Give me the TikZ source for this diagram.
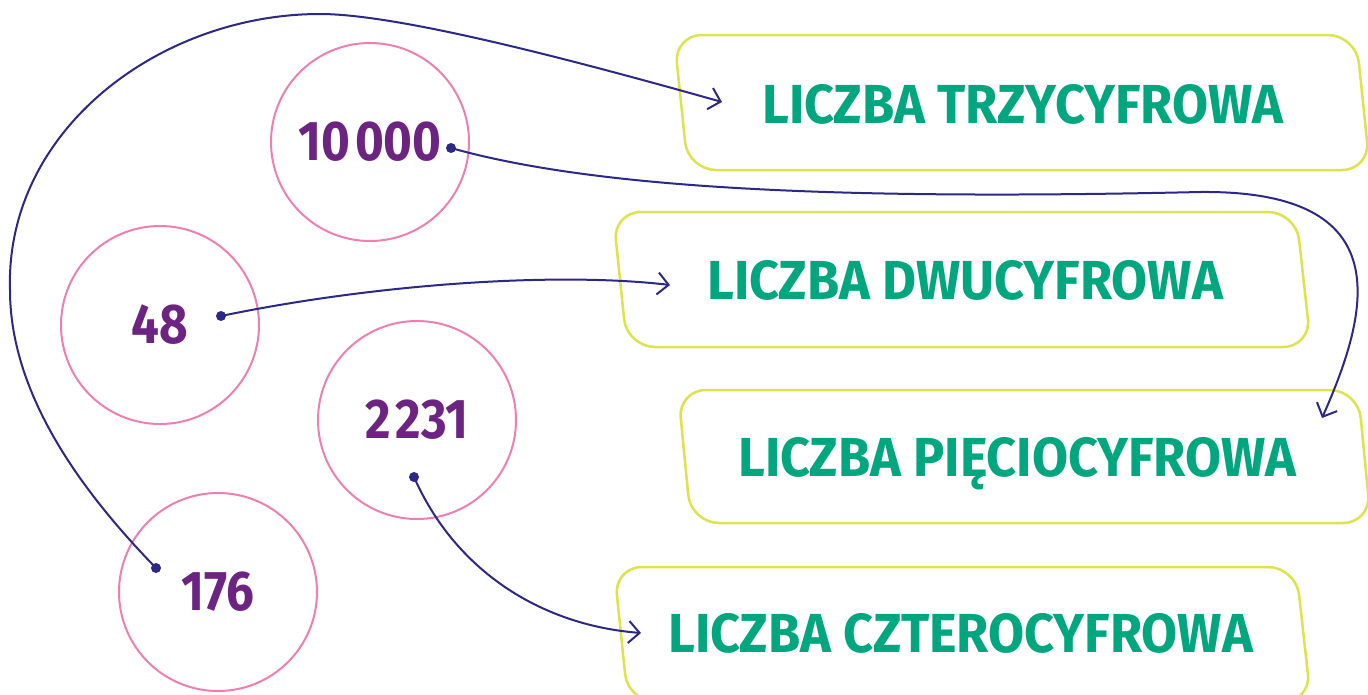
\documentclass[tikz,border=0pt]{standalone}
\usepackage{fontspec}
\usetikzlibrary{arrows.meta}
\newfontfamily\labelfont{Fira Sans}[FakeStretch=0.95]
\newfontfamily\numfont{Fira Sans}[FakeStretch=0.88,Numbers=Proportional]
\definecolor{boxline}{HTML}{DCE34C}
\definecolor{ringline}{HTML}{EE7FB0}
\definecolor{labelgreen}{HTML}{00A77E}
\definecolor{numpurple}{HTML}{6C2382}
\definecolor{linkline}{HTML}{2D2785}
\newcommand\digitgap{\hspace{5pt}}
\tikzset{
  ring/.style={draw=ringline, line width=2pt, circle, minimum size=198pt, inner sep=0pt,
    text=numpurple, font=\numfont\bfseries\fontsize{56}{60}\selectfont},
  labeltext/.style={text=labelgreen, anchor=base west, inner sep=0pt,
    font=\labelfont\bfseries\fontsize{55}{60}\selectfont},
  link/.style={draw=linkline, line width=2pt, -{Straight Barb[length=11pt,width=22pt,line width=2pt]}},
  dot/.style={circle, fill=linkline, minimum size=10pt, inner sep=0pt},
  slab/.style={draw=boxline, line width=2.5pt, rounded corners=28pt}
}
\begin{document}
\begin{tikzpicture}[x=1pt,y=-1pt]
\useasboundingbox (0,0) rectangle (1368,694);
\clip (0,0) rectangle (1368,694);
% label boxes
\draw[slab] (674,35) -- (1356,35) -- (1370,170) -- (688,170) -- cycle;
\draw[slab] (613,212) -- (1296,212) -- (1311,347) -- (627,347) -- cycle;
\draw[slab] (678,390) -- (1358,390) -- (1371,523) -- (691,523) -- cycle;
\draw[slab] (614,567) -- (1296,567) -- (1311,702) -- (628,702) -- cycle;
\node[labeltext] (l3) at (762,123) {LICZBA TRZYCYFROWA};
\node[labeltext] (l2) at (707,299) {LICZBA DWUCYFROWA};
\node[labeltext] (l5) at (738,476) {LICZBA PIĘCIOCYFROWA};
\node[labeltext] (l4) at (668,652) {LICZBA CZTEROCYFROWA};
% number rings
\node[ring] (r10000) at (370,142) {10\digitgap000};
\node[ring] (r48) at (160,325) {48};
\node[ring] (r2231) at (417,420) {2\digitgap231};
\node[ring] (r176) at (218,592) {176};
% connector ends
\node[dot] (d10000) at (451,148) {};
\node[dot] (d48) at (221,316) {};
\node[dot] (d2231) at (414,477) {};
\node[dot] (d176) at (156,568) {};
\coordinate (t3) at (722,102);
\coordinate (t2) at (670,285);
\coordinate (t5) at (1322,418);
\coordinate (t4) at (641,633);
% connectors
\draw[link] (d176.center) .. controls (90,500) and (10,400) .. (10,290)
  .. controls (5,130) and (160,14) .. (320,14)
  .. controls (400,14) and (580,62) .. (t3);
\draw[link] (d10000.center) .. controls (600,190) and (850,200) .. (1200,192)
  .. controls (1400,190) and (1370,310) .. (t5);
\draw[link] (d48.center) .. controls (380,283) and (560,272) .. (t2);
\draw[link] (d2231.center) .. controls (455,570) and (540,625) .. (t4);
\end{tikzpicture}
\end{document}
